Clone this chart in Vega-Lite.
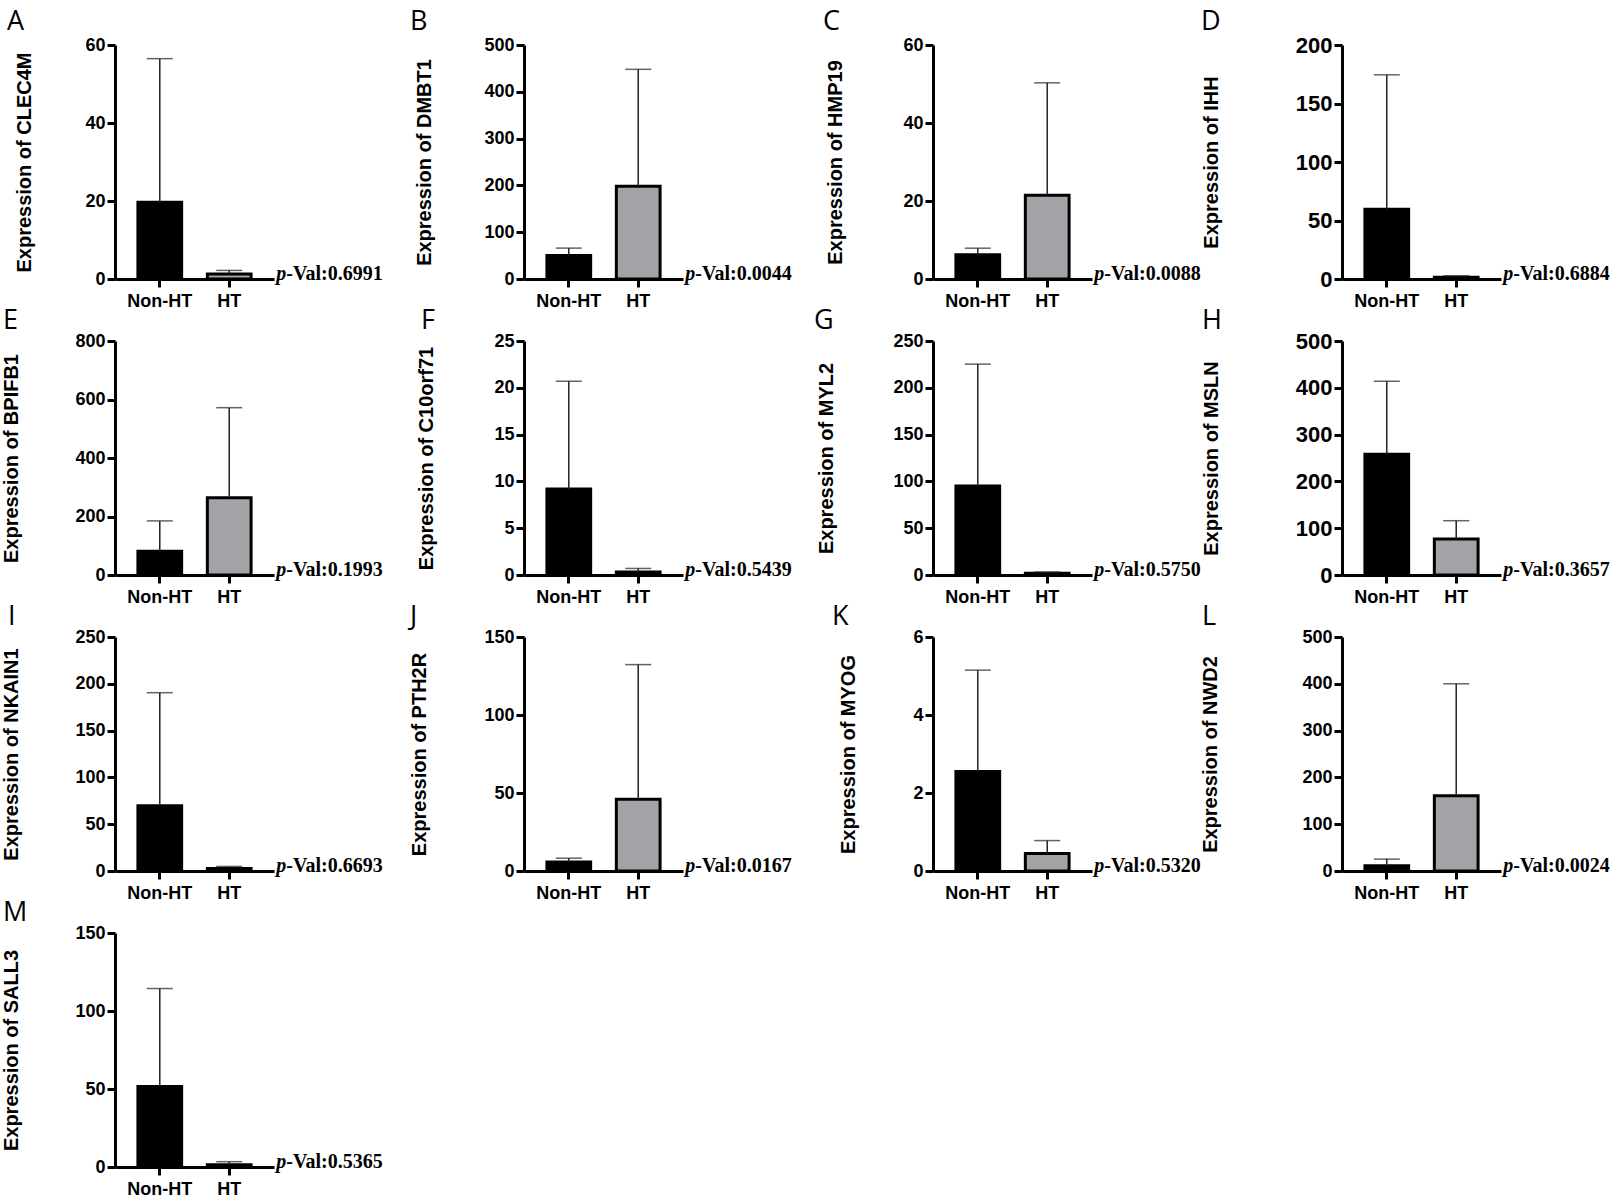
{
  "$schema": "https://vega.github.io/schema/vega-lite/v6.json",
  "background": "white",
  "padding": {"left": 0, "top": 8, "right": 2, "bottom": 0},
  "columns": 4,
  "bounds": "flush",
  "spacing": {"row": 62, "column": 250},
  "datasets": {
    "expr": [
      {"panel": "A", "group": "Non-HT", "mean": 19.7, "upper": 56.5},
      {"panel": "A", "group": "HT", "mean": 1.3, "upper": 2.2, "pval": "-Val:0.6991"},
      {"panel": "B", "group": "Non-HT", "mean": 50, "upper": 66},
      {"panel": "B", "group": "HT", "mean": 198, "upper": 448, "pval": "-Val:0.0044"},
      {"panel": "C", "group": "Non-HT", "mean": 6.2, "upper": 7.9},
      {"panel": "C", "group": "HT", "mean": 21.5, "upper": 50.3, "pval": "-Val:0.0088"},
      {"panel": "D", "group": "Non-HT", "mean": 59.6, "upper": 174.5},
      {"panel": "D", "group": "HT", "mean": 1.6, "upper": 2.8, "pval": "-Val:0.6884"},
      {"panel": "E", "group": "Non-HT", "mean": 81, "upper": 185},
      {"panel": "E", "group": "HT", "mean": 264, "upper": 572, "pval": "-Val:0.1993"},
      {"panel": "F", "group": "Non-HT", "mean": 9.2, "upper": 20.7},
      {"panel": "F", "group": "HT", "mean": 0.32, "upper": 0.7, "pval": "-Val:0.5439"},
      {"panel": "G", "group": "Non-HT", "mean": 95.2, "upper": 225.3},
      {"panel": "G", "group": "HT", "mean": 1.8, "upper": 3.2, "pval": "-Val:0.5750"},
      {"panel": "H", "group": "Non-HT", "mean": 258, "upper": 414},
      {"panel": "H", "group": "HT", "mean": 77, "upper": 116, "pval": "-Val:0.3657"},
      {"panel": "I", "group": "Non-HT", "mean": 69.6, "upper": 190.5},
      {"panel": "I", "group": "HT", "mean": 2.8, "upper": 4.9, "pval": "-Val:0.6693"},
      {"panel": "J", "group": "Non-HT", "mean": 5.7, "upper": 8.2},
      {"panel": "J", "group": "HT", "mean": 46, "upper": 132.3, "pval": "-Val:0.0167"},
      {"panel": "K", "group": "Non-HT", "mean": 2.55, "upper": 5.15},
      {"panel": "K", "group": "HT", "mean": 0.45, "upper": 0.78, "pval": "-Val:0.5320"},
      {"panel": "L", "group": "Non-HT", "mean": 11.3, "upper": 25.4},
      {"panel": "L", "group": "HT", "mean": 161, "upper": 400, "pval": "-Val:0.0024"},
      {"panel": "M", "group": "Non-HT", "mean": 51.6, "upper": 114.4},
      {"panel": "M", "group": "HT", "mean": 1.5, "upper": 3.4, "pval": "-Val:0.5365"}
    ]
  },
  "data": {"name": "expr"},
  "concat": [
    {
      "title": {"text": "A", "dx": -108, "offset": 0},
      "width": 159, "height": 234,
      "transform": [{"filter": "datum.panel === 'A'"}],
      "encoding": {
        "x": {"field": "group", "type": "nominal", "sort": ["Non-HT", "HT"], "scale": {"paddingInner": 0.37, "paddingOuter": 0.33}, "axis": {"title": null, "labelAngle": 0}},
        "y": {"field": "mean", "type": "quantitative", "scale": {"domain": [0, 60], "nice": false}, "axis": {"values": [0, 20, 40, 60], "title": "Expression of CLEC4M", "titleX": -91}}
      },
      "layer": [
        {"mark": {"type": "bar", "stroke": "black", "strokeWidth": 3}, "encoding": {"color": {"field": "group", "type": "nominal", "scale": {"domain": ["Non-HT", "HT"], "range": ["black", "#a3a3a7"]}, "legend": null}}},
        {"mark": {"type": "rule", "color": "#222", "strokeWidth": 1.5}, "encoding": {"y2": {"field": "upper"}}},
        {"mark": {"type": "tick", "color": "#222", "thickness": 1.5, "size": 26}, "encoding": {"y": {"field": "upper", "type": "quantitative"}}},
        {"transform": [{"filter": "datum.pval != null"}], "mark": {"type": "text", "text": "p", "fontStyle": "italic", "align": "right", "dx": 57}, "encoding": {"y": {"datum": 0}}},
        {"transform": [{"filter": "datum.pval != null"}], "mark": {"type": "text", "align": "left", "dx": 57}, "encoding": {"y": {"datum": 0}, "text": {"field": "pval"}}}
      ]
    },
    {
      "title": {"text": "B", "dx": -114, "offset": 0},
      "width": 159, "height": 234,
      "transform": [{"filter": "datum.panel === 'B'"}],
      "encoding": {
        "x": {"field": "group", "type": "nominal", "sort": ["Non-HT", "HT"], "scale": {"paddingInner": 0.37, "paddingOuter": 0.33}, "axis": {"title": null, "labelAngle": 0}},
        "y": {"field": "mean", "type": "quantitative", "scale": {"domain": [0, 500], "nice": false}, "axis": {"values": [0, 100, 200, 300, 400, 500], "title": "Expression of DMBT1", "titleX": -100}}
      },
      "layer": [
        {"mark": {"type": "bar", "stroke": "black", "strokeWidth": 3}, "encoding": {"color": {"field": "group", "type": "nominal", "scale": {"domain": ["Non-HT", "HT"], "range": ["black", "#a3a3a7"]}, "legend": null}}},
        {"mark": {"type": "rule", "color": "#222", "strokeWidth": 1.5}, "encoding": {"y2": {"field": "upper"}}},
        {"mark": {"type": "tick", "color": "#222", "thickness": 1.5, "size": 26}, "encoding": {"y": {"field": "upper", "type": "quantitative"}}},
        {"transform": [{"filter": "datum.pval != null"}], "mark": {"type": "text", "text": "p", "fontStyle": "italic", "align": "right", "dx": 57}, "encoding": {"y": {"datum": 0}}},
        {"transform": [{"filter": "datum.pval != null"}], "mark": {"type": "text", "align": "left", "dx": 57}, "encoding": {"y": {"datum": 0}, "text": {"field": "pval"}}}
      ]
    },
    {
      "title": {"text": "C", "dx": -110, "offset": 0},
      "width": 159, "height": 234,
      "transform": [{"filter": "datum.panel === 'C'"}],
      "encoding": {
        "x": {"field": "group", "type": "nominal", "sort": ["Non-HT", "HT"], "scale": {"paddingInner": 0.37, "paddingOuter": 0.33}, "axis": {"title": null, "labelAngle": 0}},
        "y": {"field": "mean", "type": "quantitative", "scale": {"domain": [0, 60], "nice": false}, "axis": {"values": [0, 20, 40, 60], "title": "Expression of HMP19", "titleX": -98}}
      },
      "layer": [
        {"mark": {"type": "bar", "stroke": "black", "strokeWidth": 3}, "encoding": {"color": {"field": "group", "type": "nominal", "scale": {"domain": ["Non-HT", "HT"], "range": ["black", "#a3a3a7"]}, "legend": null}}},
        {"mark": {"type": "rule", "color": "#222", "strokeWidth": 1.5}, "encoding": {"y2": {"field": "upper"}}},
        {"mark": {"type": "tick", "color": "#222", "thickness": 1.5, "size": 26}, "encoding": {"y": {"field": "upper", "type": "quantitative"}}},
        {"transform": [{"filter": "datum.pval != null"}], "mark": {"type": "text", "text": "p", "fontStyle": "italic", "align": "right", "dx": 57}, "encoding": {"y": {"datum": 0}}},
        {"transform": [{"filter": "datum.pval != null"}], "mark": {"type": "text", "align": "left", "dx": 57}, "encoding": {"y": {"datum": 0}, "text": {"field": "pval"}}}
      ]
    },
    {
      "title": {"text": "D", "dx": -141, "offset": -2},
      "width": 159, "height": 234,
      "transform": [{"filter": "datum.panel === 'D'"}],
      "encoding": {
        "x": {"field": "group", "type": "nominal", "sort": ["Non-HT", "HT"], "scale": {"paddingInner": 0.37, "paddingOuter": 0.33}, "axis": {"title": null, "labelAngle": 0}},
        "y": {"field": "mean", "type": "quantitative", "scale": {"domain": [0, 200], "nice": false}, "axis": {"values": [0, 50, 100, 150, 200], "title": "Expression of IHH", "titleX": -131, "labelFontSize": 22}}
      },
      "layer": [
        {"mark": {"type": "bar", "stroke": "black", "strokeWidth": 3}, "encoding": {"color": {"field": "group", "type": "nominal", "scale": {"domain": ["Non-HT", "HT"], "range": ["black", "#a3a3a7"]}, "legend": null}}},
        {"mark": {"type": "rule", "color": "#222", "strokeWidth": 1.5}, "encoding": {"y2": {"field": "upper"}}},
        {"mark": {"type": "tick", "color": "#222", "thickness": 1.5, "size": 26}, "encoding": {"y": {"field": "upper", "type": "quantitative"}}},
        {"transform": [{"filter": "datum.pval != null"}], "mark": {"type": "text", "text": "p", "fontStyle": "italic", "align": "right", "dx": 57}, "encoding": {"y": {"datum": 0}}},
        {"transform": [{"filter": "datum.pval != null"}], "mark": {"type": "text", "align": "left", "dx": 57}, "encoding": {"y": {"datum": 0}, "text": {"field": "pval"}}}
      ]
    },
    {
      "title": {"text": "E", "dx": -112, "offset": -3},
      "width": 159, "height": 234,
      "transform": [{"filter": "datum.panel === 'E'"}],
      "encoding": {
        "x": {"field": "group", "type": "nominal", "sort": ["Non-HT", "HT"], "scale": {"paddingInner": 0.37, "paddingOuter": 0.33}, "axis": {"title": null, "labelAngle": 0}},
        "y": {"field": "mean", "type": "quantitative", "scale": {"domain": [0, 800], "nice": false}, "axis": {"values": [0, 200, 400, 600, 800], "title": "Expression of BPIFB1", "titleX": -104}}
      },
      "layer": [
        {"mark": {"type": "bar", "stroke": "black", "strokeWidth": 3}, "encoding": {"color": {"field": "group", "type": "nominal", "scale": {"domain": ["Non-HT", "HT"], "range": ["black", "#a3a3a7"]}, "legend": null}}},
        {"mark": {"type": "rule", "color": "#222", "strokeWidth": 1.5}, "encoding": {"y2": {"field": "upper"}}},
        {"mark": {"type": "tick", "color": "#222", "thickness": 1.5, "size": 26}, "encoding": {"y": {"field": "upper", "type": "quantitative"}}},
        {"transform": [{"filter": "datum.pval != null"}], "mark": {"type": "text", "text": "p", "fontStyle": "italic", "align": "right", "dx": 57}, "encoding": {"y": {"datum": 0}}},
        {"transform": [{"filter": "datum.pval != null"}], "mark": {"type": "text", "align": "left", "dx": 57}, "encoding": {"y": {"datum": 0}, "text": {"field": "pval"}}}
      ]
    },
    {
      "title": {"text": "F", "dx": -103, "offset": -3},
      "width": 159, "height": 234,
      "transform": [{"filter": "datum.panel === 'F'"}],
      "encoding": {
        "x": {"field": "group", "type": "nominal", "sort": ["Non-HT", "HT"], "scale": {"paddingInner": 0.37, "paddingOuter": 0.33}, "axis": {"title": null, "labelAngle": 0}},
        "y": {"field": "mean", "type": "quantitative", "scale": {"domain": [0, 25], "nice": false}, "axis": {"values": [0, 5, 10, 15, 20, 25], "title": "Expression of C10orf71", "titleX": -98}}
      },
      "layer": [
        {"mark": {"type": "bar", "stroke": "black", "strokeWidth": 3}, "encoding": {"color": {"field": "group", "type": "nominal", "scale": {"domain": ["Non-HT", "HT"], "range": ["black", "#a3a3a7"]}, "legend": null}}},
        {"mark": {"type": "rule", "color": "#222", "strokeWidth": 1.5}, "encoding": {"y2": {"field": "upper"}}},
        {"mark": {"type": "tick", "color": "#222", "thickness": 1.5, "size": 26}, "encoding": {"y": {"field": "upper", "type": "quantitative"}}},
        {"transform": [{"filter": "datum.pval != null"}], "mark": {"type": "text", "text": "p", "fontStyle": "italic", "align": "right", "dx": 57}, "encoding": {"y": {"datum": 0}}},
        {"transform": [{"filter": "datum.pval != null"}], "mark": {"type": "text", "align": "left", "dx": 57}, "encoding": {"y": {"datum": 0}, "text": {"field": "pval"}}}
      ]
    },
    {
      "title": {"text": "G", "dx": -119, "offset": -3},
      "width": 159, "height": 234,
      "transform": [{"filter": "datum.panel === 'G'"}],
      "encoding": {
        "x": {"field": "group", "type": "nominal", "sort": ["Non-HT", "HT"], "scale": {"paddingInner": 0.37, "paddingOuter": 0.33}, "axis": {"title": null, "labelAngle": 0}},
        "y": {"field": "mean", "type": "quantitative", "scale": {"domain": [0, 250], "nice": false}, "axis": {"values": [0, 50, 100, 150, 200, 250], "title": "Expression of MYL2", "titleX": -107}}
      },
      "layer": [
        {"mark": {"type": "bar", "stroke": "black", "strokeWidth": 3}, "encoding": {"color": {"field": "group", "type": "nominal", "scale": {"domain": ["Non-HT", "HT"], "range": ["black", "#a3a3a7"]}, "legend": null}}},
        {"mark": {"type": "rule", "color": "#222", "strokeWidth": 1.5}, "encoding": {"y2": {"field": "upper"}}},
        {"mark": {"type": "tick", "color": "#222", "thickness": 1.5, "size": 26}, "encoding": {"y": {"field": "upper", "type": "quantitative"}}},
        {"transform": [{"filter": "datum.pval != null"}], "mark": {"type": "text", "text": "p", "fontStyle": "italic", "align": "right", "dx": 57}, "encoding": {"y": {"datum": 0}}},
        {"transform": [{"filter": "datum.pval != null"}], "mark": {"type": "text", "align": "left", "dx": 57}, "encoding": {"y": {"datum": 0}, "text": {"field": "pval"}}}
      ]
    },
    {
      "title": {"text": "H", "dx": -140, "offset": -5},
      "width": 159, "height": 234,
      "transform": [{"filter": "datum.panel === 'H'"}],
      "encoding": {
        "x": {"field": "group", "type": "nominal", "sort": ["Non-HT", "HT"], "scale": {"paddingInner": 0.37, "paddingOuter": 0.33}, "axis": {"title": null, "labelAngle": 0}},
        "y": {"field": "mean", "type": "quantitative", "scale": {"domain": [0, 500], "nice": false}, "axis": {"values": [0, 100, 200, 300, 400, 500], "title": "Expression of MSLN", "titleX": -131, "labelFontSize": 22}}
      },
      "layer": [
        {"mark": {"type": "bar", "stroke": "black", "strokeWidth": 3}, "encoding": {"color": {"field": "group", "type": "nominal", "scale": {"domain": ["Non-HT", "HT"], "range": ["black", "#a3a3a7"]}, "legend": null}}},
        {"mark": {"type": "rule", "color": "#222", "strokeWidth": 1.5}, "encoding": {"y2": {"field": "upper"}}},
        {"mark": {"type": "tick", "color": "#222", "thickness": 1.5, "size": 26}, "encoding": {"y": {"field": "upper", "type": "quantitative"}}},
        {"transform": [{"filter": "datum.pval != null"}], "mark": {"type": "text", "text": "p", "fontStyle": "italic", "align": "right", "dx": 57}, "encoding": {"y": {"datum": 0}}},
        {"transform": [{"filter": "datum.pval != null"}], "mark": {"type": "text", "align": "left", "dx": 57}, "encoding": {"y": {"datum": 0}, "text": {"field": "pval"}}}
      ]
    },
    {
      "title": {"text": "I", "dx": -107, "offset": -3},
      "width": 159, "height": 234,
      "transform": [{"filter": "datum.panel === 'I'"}],
      "encoding": {
        "x": {"field": "group", "type": "nominal", "sort": ["Non-HT", "HT"], "scale": {"paddingInner": 0.37, "paddingOuter": 0.33}, "axis": {"title": null, "labelAngle": 0}},
        "y": {"field": "mean", "type": "quantitative", "scale": {"domain": [0, 250], "nice": false}, "axis": {"values": [0, 50, 100, 150, 200, 250], "title": "Expression of NKAIN1", "titleX": -104}}
      },
      "layer": [
        {"mark": {"type": "bar", "stroke": "black", "strokeWidth": 3}, "encoding": {"color": {"field": "group", "type": "nominal", "scale": {"domain": ["Non-HT", "HT"], "range": ["black", "#a3a3a7"]}, "legend": null}}},
        {"mark": {"type": "rule", "color": "#222", "strokeWidth": 1.5}, "encoding": {"y2": {"field": "upper"}}},
        {"mark": {"type": "tick", "color": "#222", "thickness": 1.5, "size": 26}, "encoding": {"y": {"field": "upper", "type": "quantitative"}}},
        {"transform": [{"filter": "datum.pval != null"}], "mark": {"type": "text", "text": "p", "fontStyle": "italic", "align": "right", "dx": 57}, "encoding": {"y": {"datum": 0}}},
        {"transform": [{"filter": "datum.pval != null"}], "mark": {"type": "text", "align": "left", "dx": 57}, "encoding": {"y": {"datum": 0}, "text": {"field": "pval"}}}
      ]
    },
    {
      "title": {"text": "J", "dx": -114, "offset": -3},
      "width": 159, "height": 234,
      "transform": [{"filter": "datum.panel === 'J'"}],
      "encoding": {
        "x": {"field": "group", "type": "nominal", "sort": ["Non-HT", "HT"], "scale": {"paddingInner": 0.37, "paddingOuter": 0.33}, "axis": {"title": null, "labelAngle": 0}},
        "y": {"field": "mean", "type": "quantitative", "scale": {"domain": [0, 150], "nice": false}, "axis": {"values": [0, 50, 100, 150], "title": "Expression of PTH2R", "titleX": -105}}
      },
      "layer": [
        {"mark": {"type": "bar", "stroke": "black", "strokeWidth": 3}, "encoding": {"color": {"field": "group", "type": "nominal", "scale": {"domain": ["Non-HT", "HT"], "range": ["black", "#a3a3a7"]}, "legend": null}}},
        {"mark": {"type": "rule", "color": "#222", "strokeWidth": 1.5}, "encoding": {"y2": {"field": "upper"}}},
        {"mark": {"type": "tick", "color": "#222", "thickness": 1.5, "size": 26}, "encoding": {"y": {"field": "upper", "type": "quantitative"}}},
        {"transform": [{"filter": "datum.pval != null"}], "mark": {"type": "text", "text": "p", "fontStyle": "italic", "align": "right", "dx": 57}, "encoding": {"y": {"datum": 0}}},
        {"transform": [{"filter": "datum.pval != null"}], "mark": {"type": "text", "align": "left", "dx": 57}, "encoding": {"y": {"datum": 0}, "text": {"field": "pval"}}}
      ]
    },
    {
      "title": {"text": "K", "dx": -101, "offset": -3},
      "width": 159, "height": 234,
      "transform": [{"filter": "datum.panel === 'K'"}],
      "encoding": {
        "x": {"field": "group", "type": "nominal", "sort": ["Non-HT", "HT"], "scale": {"paddingInner": 0.37, "paddingOuter": 0.33}, "axis": {"title": null, "labelAngle": 0}},
        "y": {"field": "mean", "type": "quantitative", "scale": {"domain": [0, 6], "nice": false}, "axis": {"values": [0, 2, 4, 6], "title": "Expression of MYOG", "titleX": -85}}
      },
      "layer": [
        {"mark": {"type": "bar", "stroke": "black", "strokeWidth": 3}, "encoding": {"color": {"field": "group", "type": "nominal", "scale": {"domain": ["Non-HT", "HT"], "range": ["black", "#a3a3a7"]}, "legend": null}}},
        {"mark": {"type": "rule", "color": "#222", "strokeWidth": 1.5}, "encoding": {"y2": {"field": "upper"}}},
        {"mark": {"type": "tick", "color": "#222", "thickness": 1.5, "size": 26}, "encoding": {"y": {"field": "upper", "type": "quantitative"}}},
        {"transform": [{"filter": "datum.pval != null"}], "mark": {"type": "text", "text": "p", "fontStyle": "italic", "align": "right", "dx": 57}, "encoding": {"y": {"datum": 0}}},
        {"transform": [{"filter": "datum.pval != null"}], "mark": {"type": "text", "align": "left", "dx": 57}, "encoding": {"y": {"datum": 0}, "text": {"field": "pval"}}}
      ]
    },
    {
      "title": {"text": "L", "dx": -140, "offset": -3},
      "width": 159, "height": 234,
      "transform": [{"filter": "datum.panel === 'L'"}],
      "encoding": {
        "x": {"field": "group", "type": "nominal", "sort": ["Non-HT", "HT"], "scale": {"paddingInner": 0.37, "paddingOuter": 0.33}, "axis": {"title": null, "labelAngle": 0}},
        "y": {"field": "mean", "type": "quantitative", "scale": {"domain": [0, 500], "nice": false}, "axis": {"values": [0, 100, 200, 300, 400, 500], "title": "Expression of NWD2", "titleX": -132}}
      },
      "layer": [
        {"mark": {"type": "bar", "stroke": "black", "strokeWidth": 3}, "encoding": {"color": {"field": "group", "type": "nominal", "scale": {"domain": ["Non-HT", "HT"], "range": ["black", "#a3a3a7"]}, "legend": null}}},
        {"mark": {"type": "rule", "color": "#222", "strokeWidth": 1.5}, "encoding": {"y2": {"field": "upper"}}},
        {"mark": {"type": "tick", "color": "#222", "thickness": 1.5, "size": 26}, "encoding": {"y": {"field": "upper", "type": "quantitative"}}},
        {"transform": [{"filter": "datum.pval != null"}], "mark": {"type": "text", "text": "p", "fontStyle": "italic", "align": "right", "dx": 57}, "encoding": {"y": {"datum": 0}}},
        {"transform": [{"filter": "datum.pval != null"}], "mark": {"type": "text", "align": "left", "dx": 57}, "encoding": {"y": {"datum": 0}, "text": {"field": "pval"}}}
      ]
    },
    {
      "title": {"text": "M", "dx": -112, "offset": -3},
      "width": 159, "height": 234,
      "transform": [{"filter": "datum.panel === 'M'"}],
      "encoding": {
        "x": {"field": "group", "type": "nominal", "sort": ["Non-HT", "HT"], "scale": {"paddingInner": 0.37, "paddingOuter": 0.33}, "axis": {"title": null, "labelAngle": 0}},
        "y": {"field": "mean", "type": "quantitative", "scale": {"domain": [0, 150], "nice": false}, "axis": {"values": [0, 50, 100, 150], "title": "Expression of SALL3", "titleX": -104}}
      },
      "layer": [
        {"mark": {"type": "bar", "stroke": "black", "strokeWidth": 3}, "encoding": {"color": {"field": "group", "type": "nominal", "scale": {"domain": ["Non-HT", "HT"], "range": ["black", "#a3a3a7"]}, "legend": null}}},
        {"mark": {"type": "rule", "color": "#222", "strokeWidth": 1.5}, "encoding": {"y2": {"field": "upper"}}},
        {"mark": {"type": "tick", "color": "#222", "thickness": 1.5, "size": 26}, "encoding": {"y": {"field": "upper", "type": "quantitative"}}},
        {"transform": [{"filter": "datum.pval != null"}], "mark": {"type": "text", "text": "p", "fontStyle": "italic", "align": "right", "dx": 57}, "encoding": {"y": {"datum": 0}}},
        {"transform": [{"filter": "datum.pval != null"}], "mark": {"type": "text", "align": "left", "dx": 57}, "encoding": {"y": {"datum": 0}, "text": {"field": "pval"}}}
      ]
    }
  ],
  "config": {
    "view": {"stroke": null},
    "font": "Liberation Sans",
    "title": {"anchor": "start", "frame": "group", "font": "Open Sans", "fontSize": 27, "fontWeight": "normal", "color": "black"},
    "axis": {
      "grid": false,
      "domainColor": "black",
      "domainWidth": 3,
      "tickColor": "black",
      "tickWidth": 3,
      "tickSize": 8,
      "labelFont": "Liberation Sans",
      "labelFontWeight": "bold",
      "labelFontSize": 18,
      "labelColor": "black",
      "titleFont": "Liberation Sans",
      "titleFontWeight": "bold",
      "titleFontSize": 20,
      "titleColor": "black"
    },
    "axisX": {"labelPadding": 5},
    "axisY": {"labelPadding": 2, "titleBaseline": "middle"},
    "text": {"font": "Liberation Serif", "fontWeight": "bold", "fontSize": 20, "baseline": "alphabetic", "dy": 1, "color": "black"}
  }
}
